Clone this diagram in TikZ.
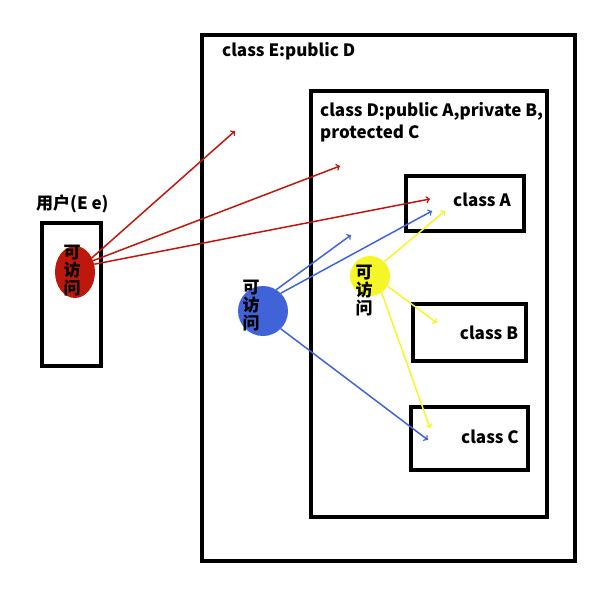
\documentclass[tikz,border=0pt]{standalone}
\usepackage{fontspec}
\setmainfont{Noto Sans CJK SC}
\usepackage{tikz}
\usetikzlibrary{positioning, shapes}

\definecolor{accred}{RGB}{190,24,12}
\definecolor{accblue}{RGB}{64,100,216}
\definecolor{accyellow}{RGB}{245,245,40}

\begin{document}
\begin{tikzpicture}[x=1pt, y=-1pt, font=\bfseries\fontsize{17}{20}\selectfont]
                    \useasboundingbox (0,0) rectangle (600,600);
                    \node[draw, line width=4pt, inner sep=0, minimum width=373pt, minimum height=526pt] (E) at (388.5,298) {};
                    \node[draw, line width=4pt, inner sep=0, minimum width=236pt, minimum height=426pt] (D) at (429,304) {};
                    \node[draw, line width=4pt, inner sep=0, minimum width=118pt, minimum height=55pt] (A) at (465,203.5) {};
                    \node[draw, line width=4pt, inner sep=0, minimum width=113pt, minimum height=57pt] (B) at (469.5,332.5) {};
                    \node[draw, line width=4pt, inner sep=0, minimum width=117pt, minimum height=63pt] (C) at (469.5,438.5) {};
                    \node[draw, line width=4pt, inner sep=0, minimum width=59pt, minimum height=143pt] (user) at (71.5,294.5) {};

                    \node[anchor=west, inner sep=0] (Elabel) at (222,51) {class E:public D};
                    \node[anchor=north west, inner sep=0, align=left, font=\bfseries\fontsize{17}{22}\selectfont] (Dlabel) at (320,102) {class D:public A,private B,\\protected C};
                    \node[inner sep=0] (Alabel) at (482,200) {class A};
                    \node[inner sep=0] (Blabel) at (489,333) {class B};
                    \node[inner sep=0] (Clabel) at (490,437) {class C};
                    \node[anchor=west, inner sep=0] (userlabel) at (36,204) {用户(E e)};

                    % access markers
                    \node[ellipse, fill=accred, inner sep=0, minimum width=40pt, minimum height=52pt] (red) at (75,272) {};
                    \node[circle, fill=accblue, inner sep=0, minimum size=50pt] (blue) at (263,311) {};
                    \node[circle, fill=accyellow, inner sep=0, minimum size=40pt] (yellow) at (370,276) {};
                    \node[align=center, inner sep=0, font=\bfseries\fontsize{17}{18}\selectfont] (redtext) at (72,271) {可\\访\\问};
                    \node[align=center, inner sep=0, font=\bfseries\fontsize{17}{18}\selectfont] (bluetext) at (251,306) {可\\访\\问};
                    \node[align=center, inner sep=0, font=\bfseries\fontsize{17}{18}\selectfont] (yellowtext) at (364,291) {可\\访\\问};

                    \coordinate (r1) at (235,131);
                    \coordinate (r2) at (340,166);
                    \coordinate (r3) at (430,199);
                    \coordinate (b1) at (351,235);
                    \coordinate (b2) at (432,211);
                    \coordinate (b3) at (428,440);
                    \coordinate (y1) at (445,211);
                    \coordinate (y2) at (437,323);
                    \coordinate (y3) at (430,428);

                    \draw[->, accred, line width=1.5pt] (red.40) -- (r1);
                    \draw[->, accred, line width=1.5pt] (red.32) -- (r2);
                    \draw[->, accred, line width=1.5pt] (red.22) -- (r3);
                    \draw[->, accblue, line width=1.5pt] (blue.58) -- (b1);
                    \draw[->, accblue, line width=1.5pt] (blue.45) -- (b2);
                    \draw[->, accblue, line width=1.5pt] (blue.-45) -- (b3);
                    \draw[->, accyellow, line width=1.5pt] (yellow.45) -- (y1);
                    \draw[->, accyellow, line width=1.5pt] (yellow.-30) -- (y2);
                    \draw[->, accyellow, line width=1.5pt] (yellow.-55) -- (y3);
                \end{tikzpicture}
\end{document}
